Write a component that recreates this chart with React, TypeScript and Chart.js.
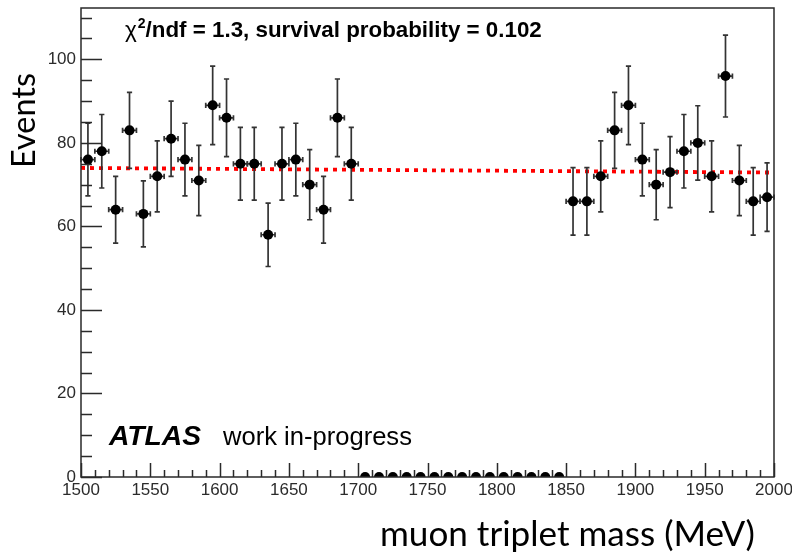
import { useEffect, useRef } from 'react';
import { Chart, registerables } from 'chart.js';
Chart.register(...registerables);

// ---- data ----
const binCentersLeft = [1505, 1515, 1525, 1535, 1545, 1555, 1565, 1575, 1585, 1595, 1605, 1615, 1625, 1635, 1645, 1655, 1665, 1675, 1685, 1695];
const countsLeft = [76, 78, 64, 83, 63, 72, 81, 76, 71, 89, 86, 75, 75, 58, 75, 76, 70, 64, 86, 75];
const errLeft = [8.7, 8.8, 8.0, 9.1, 7.9, 8.5, 9.0, 8.7, 8.4, 9.4, 9.3, 8.7, 8.7, 7.6, 8.7, 8.7, 8.4, 8.0, 9.3, 8.7];

const binCentersBlind = [1705, 1715, 1725, 1735, 1745, 1755, 1765, 1775, 1785, 1795, 1805, 1815, 1825, 1835, 1845];
const countsBlind = [0, 0, 0, 0, 0, 0, 0, 0, 0, 0, 0, 0, 0, 0, 0];
const errBlind = [0, 0, 0, 0, 0, 0, 0, 0, 0, 0, 0, 0, 0, 0, 0];

const binCentersRight = [1855, 1865, 1875, 1885, 1895, 1905, 1915, 1925, 1935, 1945, 1955, 1965, 1975, 1985, 1995];
const countsRight = [66, 66, 72, 83, 89, 76, 70, 73, 78, 80, 72, 96, 71, 66, 67];
const errRight = [8.1, 8.1, 8.5, 9.1, 9.4, 8.7, 8.4, 8.5, 8.8, 8.9, 8.5, 9.8, 8.4, 8.1, 8.2];

const binHalfWidth = 5;

const fitX = [1500, 2000];
const fitY = [74.0, 72.9];

const xMin = 1500;
const xMax = 2000;
const xMajorStep = 50;
const xMinorStep = 10;
const yMin = 0;
const yMax = 112.3;
const yMajorStep = 20;
const yMinorStep = 5;

const fitLabel = 'survival probability = 0.102';
const chiLabel = '/ndf = 1.3, ';
const atlasLabel = 'ATLAS';
const atlasSub = 'work in-progress';
const yTitle = 'Events';
const xTitle = 'muon triplet mass (MeV)';

export default function App() {
  const ref = useRef<HTMLCanvasElement | null>(null);

  useEffect(() => {
    const canvas = ref.current;
    if (!canvas) return;

    const xs = [...binCentersLeft, ...binCentersBlind, ...binCentersRight];
    const ys = [...countsLeft, ...countsBlind, ...countsRight];
    const es = [...errLeft, ...errBlind, ...errRight];
    const points = xs.map((x, i) => ({ x, y: ys[i] }));
    const fitPoints = fitX.map((x, i) => ({ x, y: fitY[i] }));

    const axisColor = '#2a2a2a';

    const errorBarPlugin = {
      id: 'errorBars',
      beforeDatasetDraw(chart: any, args: any) {
        if (args.index !== 0) return;
        const ctx = chart.ctx;
        const xs2 = chart.scales.x;
        const ys2 = chart.scales.y;
        ctx.save();
        ctx.strokeStyle = '#333';
        ctx.lineWidth = 1.7;
        const cap = 2.6;
        points.forEach((p, i) => {
          const px = xs2.getPixelForValue(p.x);
          const py = ys2.getPixelForValue(p.y);
          const e = es[i];
          if (e > 0) {
            const top = ys2.getPixelForValue(p.y + e);
            const bot = ys2.getPixelForValue(p.y - e);
            ctx.beginPath();
            ctx.moveTo(px, top); ctx.lineTo(px, bot);
            ctx.moveTo(px - cap, top); ctx.lineTo(px + cap, top);
            ctx.moveTo(px - cap, bot); ctx.lineTo(px + cap, bot);
            ctx.stroke();
            const l = xs2.getPixelForValue(p.x - binHalfWidth);
            const r = xs2.getPixelForValue(p.x + binHalfWidth);
            ctx.beginPath();
            ctx.moveTo(l, py); ctx.lineTo(r, py);
            ctx.moveTo(l, py - cap); ctx.lineTo(l, py + cap);
            ctx.moveTo(r, py - cap); ctx.lineTo(r, py + cap);
            ctx.stroke();
          }
        });
        ctx.restore();
      },
    };

    const fitText = (ctx: CanvasRenderingContext2D, text: string, family: string, style: string, target: number) => {
      ctx.font = `${style} 40px ${family}`;
      const w = ctx.measureText(text).width;
      return (40 * target) / w;
    };

    const framePlugin = {
      id: 'frame',
      afterDraw(chart: any) {
        const ctx: CanvasRenderingContext2D = chart.ctx;
        const { left, right, top, bottom } = chart.chartArea;
        const sx = chart.scales.x;
        const sy = chart.scales.y;
        ctx.save();
        ctx.strokeStyle = axisColor;
        ctx.lineWidth = 1.5;
        ctx.beginPath();
        ctx.rect(left, top, right - left, bottom - top);
        ctx.stroke();
        ctx.beginPath();
        for (let v = xMin; v <= xMax + 0.001; v += xMinorStep) {
          const px = Math.round(sx.getPixelForValue(v)) + 0.5;
          const len = v % xMajorStep === 0 ? 14 : 7;
          ctx.moveTo(px, bottom); ctx.lineTo(px, bottom - len);
        }
        for (let v = yMin; v <= yMax; v += yMinorStep) {
          const py = Math.round(sy.getPixelForValue(v)) + 0.5;
          const len = v % yMajorStep === 0 ? 21 : 11;
          ctx.moveTo(left, py); ctx.lineTo(left + len, py);
        }
        ctx.stroke();

        // annotations
        ctx.fillStyle = '#000';
        ctx.textBaseline = 'alphabetic';
        ctx.textAlign = 'left';
        let x = 125;
        const base = 37;
        ctx.font = '22.5px "Liberation Sans"';
        ctx.fillText('\u03c7', x, base);
        x += ctx.measureText('\u03c7').width + 1;
        ctx.font = 'bold 14px "Liberation Sans"';
        ctx.fillText('2', x, base - 9);
        x += ctx.measureText('2').width;
        const chiSize = fitText(ctx, chiLabel + fitLabel, '"Liberation Sans"', 'bold', 542 - x);
        ctx.font = `bold ${chiSize}px "Liberation Sans"`;
        ctx.fillText(chiLabel + fitLabel, x, base);

        const atlasSize = fitText(ctx, atlasLabel, '"Liberation Sans"', 'italic bold', 92);
        ctx.font = `italic bold ${atlasSize}px "Liberation Sans"`;
        ctx.fillText(atlasLabel, 109, 445);
        const subSize = fitText(ctx, atlasSub, '"Liberation Sans"', 'normal', 189);
        ctx.font = `${subSize}px "Liberation Sans"`;
        ctx.fillText(atlasSub, 223, 445);

        const xs3 = fitText(ctx, xTitle, 'Lato', 'normal', 375);
        ctx.font = `${xs3}px Lato`;
        ctx.fillText(xTitle, 380, 546);

        const ys3 = fitText(ctx, yTitle, 'Lato', 'normal', 95);
        ctx.save();
        ctx.translate(35, 120.5);
        ctx.rotate(-Math.PI / 2);
        ctx.textAlign = 'center';
        ctx.font = `${ys3}px Lato`;
        ctx.fillText(yTitle, 0, 0);
        ctx.restore();
        ctx.restore();
      },
    };

    const chart = new Chart(canvas, {
      type: 'scatter',
      data: {
        datasets: [
          {
            label: 'data',
            data: points,
            pointRadius: 5,
            pointHoverRadius: 5,
            pointBackgroundColor: '#000',
            pointBorderColor: '#000',
            pointBorderWidth: 0,
            showLine: false,
            order: 1,
          },
          {
            label: 'fit',
            type: 'line',
            data: fitPoints,
            borderColor: '#ff0000',
            borderWidth: 3.8,
            borderDash: [4, 5],
            pointRadius: 0,
            fill: false,
            order: 2,
          } as any,
        ],
      },
      options: {
        responsive: false,
        animation: false,
        layout: { padding: { left: 0, top: 8, right: 18, bottom: 0 } },
        plugins: {
          legend: { display: false },
          tooltip: { enabled: false },
          title: { display: false },
        },
        scales: {
          x: {
            type: 'linear',
            min: xMin,
            max: xMax,
            grid: { display: false, drawTicks: false },
            border: { display: false },
            ticks: {
              stepSize: xMajorStep,
              padding: 3,
              color: '#2b2b2b',
              font: { family: '"Liberation Sans"', size: 17 },
              maxRotation: 0,
              autoSkip: false,
              callback: (v: any) => String(v),
            },
            afterFit: (s: any) => { s.height = 78; s.paddingLeft = 0; s.paddingRight = 0; },
          },
          y: {
            type: 'linear',
            min: yMin,
            max: yMax,
            grid: { display: false, drawTicks: false },
            border: { display: false },
            afterBuildTicks: (s: any) => { s.ticks = s.ticks.filter((t: any) => t.value % yMajorStep === 0); },
            ticks: {
              stepSize: yMajorStep,
              padding: 5,
              color: '#2b2b2b',
              font: { family: '"Liberation Sans"', size: 17 },
            },
            afterFit: (s: any) => { s.width = 81; s.paddingTop = 0; s.paddingBottom = 0; },
          },
        },
      },
      plugins: [errorBarPlugin, framePlugin],
    });
    return () => chart.destroy();
  }, []);

  return (
    <div style={{ position: 'absolute', left: 0, top: 0, width: 792, height: 555, background: '#fff' }}>
      <canvas ref={ref} width={792} height={555} style={{ display: 'block' }} />
    </div>
  );
}
